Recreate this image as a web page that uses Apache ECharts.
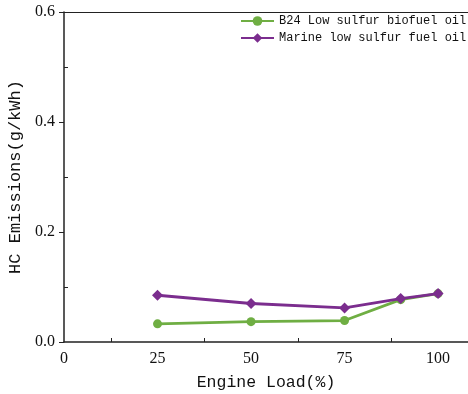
<!DOCTYPE html>
<html>
<head>
<meta charset="utf-8">
<script src="https://cdn.jsdelivr.net/npm/echarts@6/dist/echarts.min.js"></script>
<style>html,body{margin:0;padding:0;background:#fff}#c{width:468px;height:394px}</style>
</head>
<body>
<div id="c"></div>
<script>
var loads = [25, 50, 75, 90, 100];
var b24Values = [0.033, 0.037, 0.039, 0.077, 0.088];
var marineValues = [0.085, 0.070, 0.062, 0.079, 0.088];
var seriesNames = ['B24 Low sulfur biofuel oil', 'Marine low sulfur fuel oil'];
var xTicks = [0, 25, 50, 75, 100];
var yTicks = [0.0, 0.2, 0.4, 0.6];

function pairs(xs, ys) { return xs.map(function (x, i) { return [x, ys[i]]; }); }

var chart = echarts.init(document.getElementById('c'));
var labelFont = { color: '#111', fontFamily: 'Liberation Serif', fontSize: 16 };
chart.setOption({
  animation: false,
  grid: { left: 64, top: 12, right: 0, bottom: 52, outerBoundsMode: 'none', containLabel: false },
  legend: {
    left: 240, top: 15, orient: 'vertical', itemWidth: 33, itemHeight: 12, itemGap: 5, padding: 0,
    textStyle: { fontFamily: 'Liberation Mono', fontSize: 12, color: '#111' },
    data: seriesNames
  },
  xAxis: [{
    type: 'value', min: 0, max: 108, interval: 25,
    name: 'Engine Load(%)', nameLocation: 'middle', nameGap: 32,
    nameTextStyle: { fontFamily: 'Liberation Mono', fontSize: 16.5, color: '#111' },
    axisLine: { show: true, lineStyle: { color: '#222', width: 1.5 } },
    axisTick: { show: false, inside: true },
    minorTick: { show: true, splitNumber: 2, length: 4, lineStyle: { color: '#222', width: 1 } },
    splitLine: { show: false },
    axisLabel: Object.assign({ margin: 9, formatter: function (v) { return xTicks.indexOf(v) >= 0 ? String(v) : ''; } }, labelFont)
  }, {
    type: 'value', min: 0, max: 108, position: 'top',
    axisLine: { show: true, onZero: false, lineStyle: { color: '#222', width: 1.2 } },
    axisTick: { show: false }, axisLabel: { show: false }, splitLine: { show: false }
  }],
  yAxis: [{
    type: 'value', min: 0, max: 0.6, interval: 0.2,
    name: 'HC Emissions(g/kWh)', nameLocation: 'middle', nameGap: 34,
    nameTextStyle: { fontFamily: 'Liberation Mono', fontSize: 17, color: '#111' },
    axisLine: { show: true, lineStyle: { color: '#222', width: 1.5 } },
    axisTick: { show: true, inside: false, length: 5, lineStyle: { color: '#222', width: 1 } },
    splitLine: { show: false },
    axisLabel: Object.assign({ margin: 9, formatter: function (v) { return v.toFixed(1); } }, labelFont)
  }, {
    type: 'value', min: 0, max: 0.6, interval: 0.2, position: 'left', offset: 0,
    axisLine: { show: false },
    axisTick: { show: false, inside: true },
    minorTick: { show: true, splitNumber: 2, length: 4, lineStyle: { color: '#222', width: 1 } },
    splitLine: { show: false },
    axisLabel: { show: false }
  }],
  series: [{
    name: seriesNames[0], type: 'line', data: pairs(loads, b24Values),
    symbol: 'circle', symbolSize: 9,
    lineStyle: { color: '#6FAE43', width: 2.8 },
    itemStyle: { color: '#6FAE43' }, z: 2
  }, {
    name: seriesNames[1], type: 'line', data: pairs(loads, marineValues),
    symbol: 'diamond', symbolSize: 11,
    lineStyle: { color: '#7B2D8E', width: 2.8 },
    itemStyle: { color: '#7B2D8E' }, z: 3
  }]
});
</script>
</body>
</html>
